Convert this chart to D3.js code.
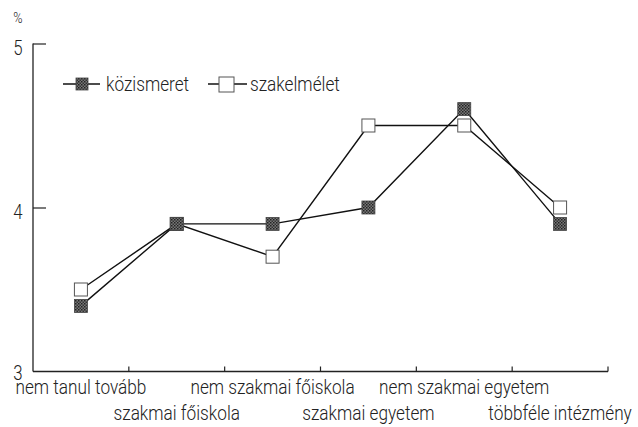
<!DOCTYPE html>
<html><head><meta charset="utf-8">
<script src="https://cdn.jsdelivr.net/npm/d3@7"></script>
<style>body{margin:0;background:#fff}svg{display:block}text{font-family:Roboto,"Liberation Sans",Arial,sans-serif;font-weight:300;fill:#222}</style>
</head><body><svg id="c" width="638" height="427"></svg>
<script>
const categories = ["nem tanul tovább","szakmai főiskola","nem szakmai főiskola","szakmai egyetem","nem szakmai egyetem","többféle intézmény"];
const kozismeret = [3.4, 3.9, 3.9, 4.0, 4.6, 3.9];
const szakelmelet = [3.5, 3.9, 3.7, 4.5, 4.5, 4.0];
const yTicks = [3, 4, 5];
const seriesNames = ["közismeret","szakelmélet"];

const SX = 0.84;
const svg = d3.select("#c");
const defs = svg.append("defs");
const pat = defs.append("pattern").attr("id","tex").attr("width",3).attr("height",3).attr("patternUnits","userSpaceOnUse");
pat.append("rect").attr("width",3).attr("height",3).attr("fill","#777");
pat.append("rect").attr("width",1.5).attr("height",1.5).attr("fill","#222");
pat.append("rect").attr("x",1.5).attr("y",1.5).attr("width",1.5).attr("height",1.5).attr("fill","#333");

const x = d3.scaleBand().domain(categories).range([33, 608]);
const y = d3.scaleLinear().domain([3, 5]).range([371.5, 43.5]);
const cx = d => x(d) + x.bandwidth()/2;

function ctext(g, tx, ty, str, size, anchor, fill){
  return g.append("text").attr("transform",`translate(${tx},${ty}) scale(${SX},1)`)
    .attr("text-anchor",anchor||"start").attr("font-size",size).attr("fill",fill||"#222").text(str);
}

// axes
const yAxis = svg.append("g").attr("transform","translate(33,0)")
  .call(d3.axisRight(y).tickValues(yTicks).tickSize(13).tickFormat(""));
yAxis.select(".domain").remove();
yAxis.selectAll(".tick line").attr("stroke","#222").attr("stroke-width",1.2).filter(d=>d===3).remove();
svg.append("line").attr("x1",33).attr("x2",33).attr("y1",y(5)).attr("y2",y(3)).attr("stroke","#222").attr("stroke-width",1.3);
svg.append("line").attr("x1",33).attr("x2",608).attr("y1",y(3)).attr("y2",y(3)).attr("stroke","#222").attr("stroke-width",1.3);
const bounds = categories.map(c => x(c) + x.bandwidth());
svg.append("g").selectAll("line").data(bounds).join("line")
  .attr("x1",d=>d).attr("x2",d=>d).attr("y1",y(3)).attr("y2",y(3)-5).attr("stroke","#222").attr("stroke-width",1.2);

// y tick labels
const yl = svg.append("g");
yTicks.forEach(d => ctext(yl, 18, d===3 ? 380 : y(d)+11, d, 20, "middle", "#444"));
ctext(svg, 18, 23, "%", 15, "middle", "#444");

// x labels
const xl = svg.append("g");
categories.forEach((d,i) => ctext(xl, cx(d), i%2===0 ? 394 : 420, d, 20.5, "middle"));

// lines
const line = d3.line().x((v,i)=>cx(categories[i])).y(v=>y(v));
svg.append("path").attr("d",line(kozismeret)).attr("fill","none").attr("stroke","#111").attr("stroke-width",1.4);
svg.append("path").attr("d",line(szakelmelet)).attr("fill","none").attr("stroke","#111").attr("stroke-width",1.4);

const s = 13;
svg.append("g").selectAll("rect").data(szakelmelet).join("rect")
  .attr("x",(v,i)=>cx(categories[i])-s/2).attr("y",v=>y(v)-s/2).attr("width",s).attr("height",s)
  .attr("fill","#fff").attr("stroke","#555").attr("stroke-width",1);
svg.append("g").selectAll("rect").data(kozismeret).join("rect")
  .attr("x",(v,i)=>cx(categories[i])-s/2).attr("y",v=>y(v)-s/2).attr("width",s).attr("height",s)
  .attr("fill","url(#tex)").attr("stroke","#444").attr("stroke-width",0.8);

// legend
const leg = svg.append("g");
leg.append("line").attr("x1",63).attr("x2",100).attr("y1",84).attr("y2",84).attr("stroke","#111").attr("stroke-width",1.4);
leg.append("rect").attr("x",76).attr("y",78).attr("width",12).attr("height",12).attr("fill","url(#tex)").attr("stroke","#444").attr("stroke-width",0.8);
ctext(leg, 106, 91, seriesNames[0], 20.5);
leg.append("line").attr("x1",208).attr("x2",247).attr("y1",84).attr("y2",84).attr("stroke","#111").attr("stroke-width",1.4);
leg.append("rect").attr("x",219).attr("y",77).attr("width",15).attr("height",15).attr("fill","#fff").attr("stroke","#555").attr("stroke-width",1);
ctext(leg, 250, 91, seriesNames[1], 20.5);
</script></body></html>
